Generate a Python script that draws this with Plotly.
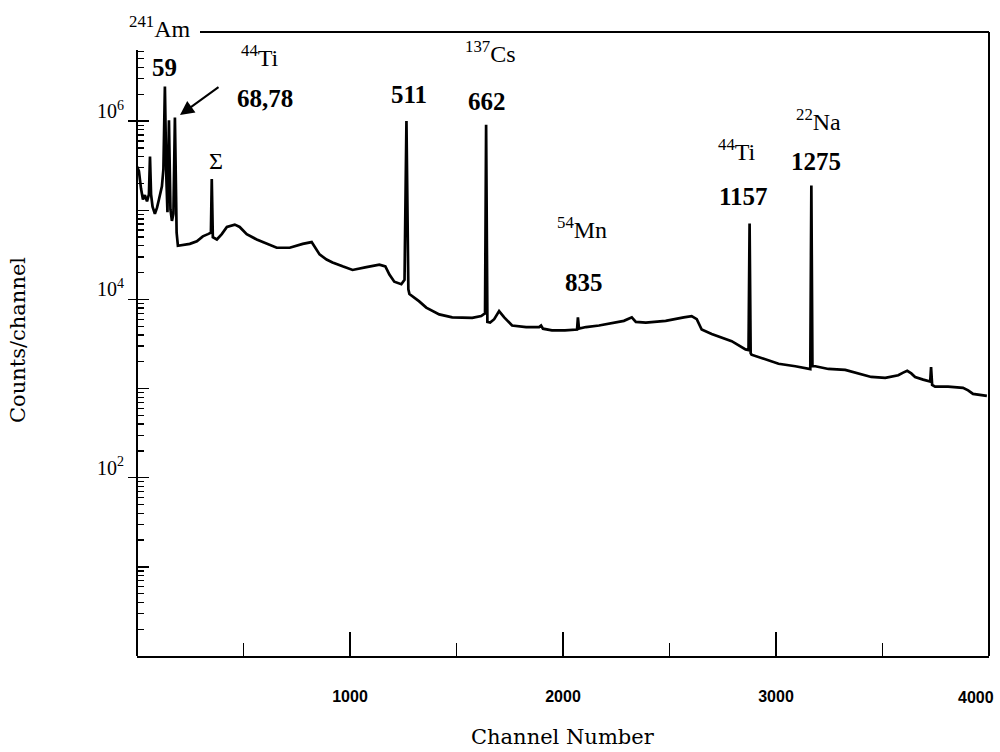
import plotly.graph_objects as go

# ---------------- data ----------------
channels = [0, 9, 19, 28, 37, 47, 56, 61, 66, 73, 84, 94, 103, 117, 124, 131, 138, 143,
            150, 157, 164, 171, 178, 183, 186, 192, 215, 248, 281, 309, 333, 347, 351,
            356, 375, 398, 422, 459, 482, 515, 562, 609, 656, 717, 778, 820, 838, 857,
            890, 918, 965, 1012, 1077, 1138, 1166, 1185, 1208, 1241, 1256, 1265, 1274,
            1279, 1325, 1358, 1419, 1480, 1574, 1616, 1634, 1639, 1645, 1658, 1677, 1700,
            1724, 1761, 1827, 1888, 1897, 1906, 1948, 2009, 2066, 2070, 2075, 2108, 2169,
            2230, 2286, 2323, 2342, 2389, 2482, 2567, 2604, 2628, 2651, 2698, 2792, 2857,
            2871, 2876, 2881, 2885, 2932, 3012, 3091, 3152, 3161, 3166, 3171, 3185, 3246,
            3325, 3386, 3447, 3513, 3574, 3597, 3616, 3635, 3653, 3691, 3724, 3728, 3733,
            3747, 3808, 3878, 3902, 3925, 3958, 3990]
counts = [3.1e5, 2.75e5, 1.74e5, 1.32e5, 1.48e5, 1.26e5, 1.51e5, 4.0e5, 1.51e5, 1.10e5,
          9.1e4, 1.07e5, 1.32e5, 1.86e5, 2.9e5, 2.45e6, 2.24e5, 9.5e4, 1.02e6, 1.02e5,
          7.6e4, 9.1e4, 1.10e6, 9.1e4, 5.6e4, 4.0e4, 4.1e4, 4.2e4, 4.5e4, 5.1e4, 5.4e4,
          5.6e4, 2.24e5, 5.0e4, 4.7e4, 5.4e4, 6.5e4, 6.9e4, 6.5e4, 5.4e4, 4.7e4, 4.2e4,
          3.8e4, 3.8e4, 4.2e4, 4.4e4, 3.8e4, 3.2e4, 2.8e4, 2.6e4, 2.35e4, 2.14e4, 2.3e4,
          2.45e4, 2.35e4, 1.9e4, 1.58e4, 1.48e4, 1.66e4, 1.0e6, 1.3e4, 1.15e4, 9.5e3,
          8.1e3, 6.8e3, 6.3e3, 6.2e3, 6.5e3, 7.0e3, 9.1e5, 5.6e3, 5.5e3, 6.0e3, 7.4e3,
          6.3e3, 5.1e3, 4.9e3, 4.9e3, 5.1e3, 4.7e3, 4.5e3, 4.5e3, 4.6e3, 6.3e3, 4.7e3,
          4.9e3, 5.1e3, 5.4e3, 5.75e3, 6.3e3, 5.6e3, 5.5e3, 5.75e3, 6.3e3, 6.5e3, 6.0e3,
          4.6e3, 4.1e3, 3.4e3, 2.75e3, 2.7e3, 7.1e4, 2.5e3, 2.4e3, 2.2e3, 1.9e3, 1.78e3,
          1.66e3, 1.65e3, 1.9e5, 1.78e3, 1.78e3, 1.66e3, 1.62e3, 1.48e3, 1.35e3, 1.32e3,
          1.41e3, 1.51e3, 1.58e3, 1.48e3, 1.35e3, 1.26e3, 1.20e3, 1.74e3, 1.10e3, 1.05e3,
          1.05e3, 1.02e3, 955, 870, 850, 830]

x_major = [1000, 2000, 3000]
x_major_text = ["1000", "2000", "3000"]
x_minor = [500, 1500, 2500, 3500]
y_major = [1, 10, 100, 1000, 10000, 100000, 1000000]
y_major_text = ["", "", "10<sup>2</sup>", "", "10<sup>4</sup>", "", "10<sup>6</sup>"]
y_cross = [100, 10000, 1000000]
y_minor = [m * 10 ** k for k in range(7) for m in range(2, 10) if m * 10 ** k < 6.5e6]

# peak labels: (text, pixel x, pixel y, bold)
labels = [
    ("<sup>241</sup>Am", 160, 27, False),
    ("59", 164, 67, True),
    ("<sup>44</sup>Ti", 260, 56, False),
    ("68,78", 265, 99, True),
    ("Σ", 216, 161, False),
    ("511", 409, 95, True),
    ("<sup>137</sup>Cs", 490, 52, False),
    ("662", 487, 101, True),
    ("<sup>54</sup>Mn", 582, 228, False),
    ("835", 584, 282, True),
    ("<sup>44</sup>Ti", 737, 150, False),
    ("1157", 743, 197, True),
    ("<sup>22</sup>Na", 818, 120, False),
    ("1275", 816, 161, True),
]

# ---------------- geometry ----------------
W, H = 1000, 752
L, R, T, B = 137, 11, 32, 96
PW, PH = W - L - R, H - T - B


def xp(px):
    return (px - L) / PW


def yp(py):
    return (H - B - py) / PH


SERIF = "Liberation Serif, Times New Roman, serif"
WIDE_SERIF = "DejaVu Serif, serif"
SANS = "Liberation Sans, Arial, sans-serif"

fig = go.Figure()
fig.add_trace(go.Scatter(x=channels, y=counts, mode="lines",
                         line=dict(color="black", width=2.7),
                         showlegend=False, hoverinfo="skip"))
fig.add_trace(go.Scatter(x=[0], y=[1], yaxis="y2", mode="markers",
                         marker=dict(opacity=0), showlegend=False, hoverinfo="skip"))

fig.update_layout(
    width=W, height=H,
    margin=dict(l=L, r=R, t=T, b=B),
    paper_bgcolor="white", plot_bgcolor="white",
    showlegend=False,
    xaxis=dict(range=[0, 4000], showgrid=False, zeroline=False,
               showline=True, linecolor="black", linewidth=2,
               ticks="inside", ticklen=24, tickwidth=1.5, tickcolor="black",
               tickvals=x_major, ticktext=x_major_text,
               tickfont=dict(family=SANS, size=16, color="black", weight="bold"),
               ticklabelstandoff=25,
               minor=dict(tickvals=x_minor, ticks="inside", ticklen=13,
                          tickwidth=1.5, tickcolor="black", showgrid=False)),
    yaxis=dict(type="log", range=[0, 7], showgrid=False, zeroline=False,
               showline=False,
               ticks="inside", ticklen=12, tickwidth=1.5, tickcolor="black",
               tickvals=y_major, ticktext=y_major_text,
               tickfont=dict(family=SERIF, size=20, color="black"),
               ticklabelstandoff=12, ticklabelshift=-10,
               minor=dict(tickvals=y_minor, ticks="inside", ticklen=7,
                          tickwidth=1.3, tickcolor="black", showgrid=False)),
    yaxis2=dict(type="log", range=[0, 7], overlaying="y", side="left",
                showgrid=False, zeroline=False, showline=False,
                ticks="outside", ticklen=8, tickwidth=1.5, tickcolor="black",
                tickvals=y_cross, showticklabels=False),
)

line = dict(color="black", width=2)
fig.add_shape(type="line", xref="paper", yref="paper", x0=0, x1=0, y0=0, y1=yp(50), line=line)
fig.add_shape(type="line", xref="paper", yref="paper", x0=xp(200), x1=1, y0=1, y1=1, line=line)
fig.add_shape(type="line", xref="paper", yref="paper", x0=1, x1=1, y0=0, y1=1, line=line)

for text, px, py, bold in labels:
    fig.add_annotation(
        text=f"<b>{text}</b>" if bold else text,
        xref="paper", yref="paper", x=xp(px), y=yp(py),
        xanchor="center", yanchor="middle", showarrow=False,
        font=dict(family=SERIF, size=25 if bold else 24, color="black"))

# arrow pointing to the 68/78 keV lines
fig.add_annotation(text="", xref="paper", yref="paper", x=xp(180), y=yp(115),
                   ax=40, ay=-29, showarrow=True, arrowhead=2, arrowsize=1.4,
                   arrowwidth=2, arrowcolor="black")

# last x tick label sits at the right corner
fig.add_annotation(text="4000", xref="paper", yref="paper", x=xp(996), y=yp(697),
                   xanchor="right", yanchor="middle", showarrow=False,
                   font=dict(family=SANS, size=16, color="black", weight="bold"))

fig.add_annotation(text="Channel Number", xref="paper", yref="paper",
                   x=0.5, y=yp(737), xanchor="center", yanchor="middle",
                   showarrow=False, font=dict(family=WIDE_SERIF, size=21, color="black"))
fig.add_annotation(text="Counts/channel", xref="paper", yref="paper",
                   x=xp(18), y=yp(340), xanchor="center", yanchor="middle",
                   textangle=-90, showarrow=False,
                   font=dict(family=WIDE_SERIF, size=21, color="black"))

fig.write_html("out.html",
               config={"displayModeBar": False, "staticPlot": True},
               post_script="document.body.style.margin='0px';"
                           "document.body.style.padding='0px';"
                           "document.body.style.overflow='hidden';")
